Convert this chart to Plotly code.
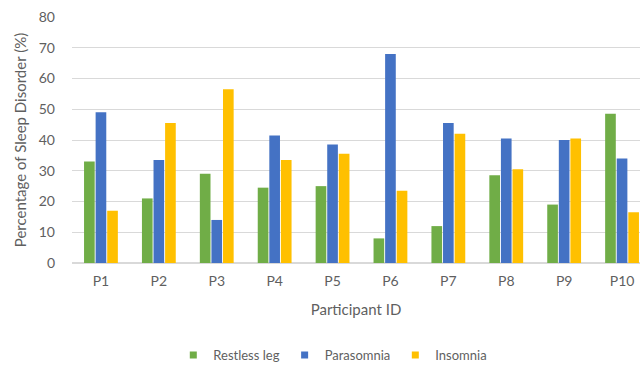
import plotly.graph_objects as go

participants = ["P1", "P2", "P3", "P4", "P5", "P6", "P7", "P8", "P9", "P10"]
restless_leg = [33, 21, 29, 24.5, 25, 8, 12, 28.5, 19, 48.5]
parasomnia = [49, 33.5, 14, 41.5, 38.5, 68, 45.5, 40.5, 40, 34]
insomnia = [17, 45.5, 56.5, 33.5, 35.5, 23.5, 42, 30.5, 40.5, 16.5]

series = [
    ("Restless leg", restless_leg, "#70AD47"),
    ("Parasomnia", parasomnia, "#4472C4"),
    ("Insomnia", insomnia, "#FFC000"),
]

fig = go.Figure()
for name, vals, color in series:
    fig.add_trace(go.Bar(x=participants, y=vals, name=name, showlegend=False,
                         marker=dict(color=color, line=dict(width=0))))
# small square swatches for the legend
for name, vals, color in series:
    fig.add_trace(go.Scatter(x=[None], y=[None], mode="markers", name=name,
                             marker=dict(symbol="square", size=7, color=color)))

text_color = "#5f5f5f"
fig.update_layout(
    width=640, height=365,
    margin=dict(l=72, r=0, t=17, b=102),
    paper_bgcolor="white", plot_bgcolor="white",
    font=dict(family="Lato, sans-serif", size=13, color=text_color),
    barmode="group", bargap=0.4, bargroupgap=0.08,
    showlegend=True,
    legend=dict(orientation="h", xref="container", yref="container",
                x=0.52, y=0.027, xanchor="center", yanchor="middle",
                font=dict(size=13, color=text_color), itemwidth=30,
                tracegroupgap=0, traceorder="normal"),
    xaxis=dict(range=[-0.5, 9.31], showgrid=False, showline=False,
               ticks="", ticklabelstandoff=8,
               tickfont=dict(size=14, color=text_color),
               title=dict(text="Participant ID", font=dict(size=15, color=text_color),
                          standoff=16)),
    yaxis=dict(range=[0, 80], dtick=10, showgrid=True, gridcolor="#D9D9D9",
               gridwidth=1, zeroline=True, zerolinecolor="#D9D9D9",
               showline=False, ticks="", ticklabelstandoff=16,
               tickfont=dict(size=14, color=text_color),
               title=dict(text="Percentage of Sleep Disorder (%)",
                          font=dict(size=15, color=text_color), standoff=8)),
)

fig.write_html("out.html")
